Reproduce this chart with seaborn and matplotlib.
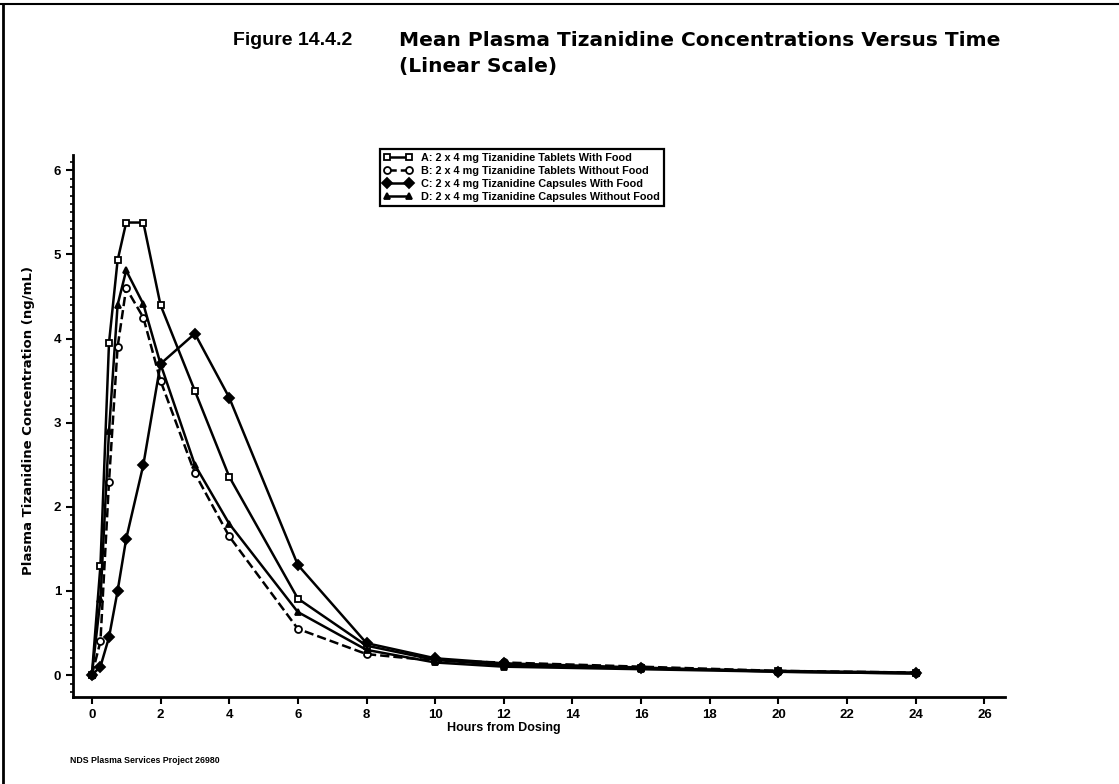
import numpy as np
import pandas as pd
import seaborn as sns
import matplotlib.pyplot as plt
from matplotlib.lines import Line2D
from matplotlib.ticker import MultipleLocator

# Sampling times (hours from dosing)
hours = [0, 0.25, 0.5, 0.75, 1, 1.5, 2, 3, 4, 6, 8, 10, 12, 16, 20, 24]

# Mean plasma tizanidine concentrations (ng/mL)
conc_a = [0, 1.3, 3.95, 4.93, 5.38, 5.38, 4.4, 3.38, 2.36, 0.91, 0.35, 0.18, 0.12, 0.08, 0.05, 0.03]
conc_b = [0, 0.4, 2.3, 3.9, 4.6, 4.25, 3.5, 2.4, 1.65, 0.55, 0.25, 0.17, 0.15, 0.1, 0.05, 0.03]
conc_c = [0, 0.1, 0.45, 1.0, 1.62, 2.5, 3.7, 4.06, 3.3, 1.31, 0.38, 0.2, 0.14, 0.09, 0.04, 0.02]
conc_d = [0, 0.9, 2.9, 4.4, 4.81, 4.41, 3.7, 2.5, 1.8, 0.75, 0.3, 0.15, 0.1, 0.07, 0.04, 0.02]

labels = [
    "A: 2 x 4 mg Tizanidine Tablets With Food",
    "B: 2 x 4 mg Tizanidine Tablets Without Food",
    "C: 2 x 4 mg Tizanidine Capsules With Food",
    "D: 2 x 4 mg Tizanidine Capsules Without Food",
]
x_ticks = list(range(0, 27, 2))
y_ticks = list(range(0, 7))

sns.set_style("ticks")
plt.rcParams['font.family'] = ['Liberation Sans', 'DejaVu Sans']
plt.rcParams['font.weight'] = 'bold'
plt.rcParams['text.color'] = 'black'
plt.rcParams['axes.labelcolor'] = 'black'
plt.rcParams['xtick.color'] = 'black'
plt.rcParams['ytick.color'] = 'black'

fig = plt.figure(figsize=(11.19, 7.84), dpi=100)
ax = fig.add_axes([0.0652, 0.111, 0.833, 0.691])

styles = [
    dict(marker='s', linestyle='-', markerfacecolor='white'),
    dict(marker='o', linestyle='--', markerfacecolor='white'),
    dict(marker='D', linestyle='-', markerfacecolor='black'),
    dict(marker='^', linestyle='-', markerfacecolor='black'),
]
series = [conc_a, conc_b, conc_c, conc_d]

for vals, lab, st in zip(series, labels, styles):
    df = pd.DataFrame({"hours": hours, "conc": vals})
    sns.lineplot(data=df, x="hours", y="conc", ax=ax, color='black',
                 linewidth=1.8, markersize=5, markeredgewidth=1.3,
                 markeredgecolor='black', label=lab, **st)

ax.set_xlim(-0.55, 26.6)
ax.set_ylim(-0.26, 6.18)
ax.set_xticks(x_ticks)
ax.set_yticks(y_ticks)
ax.yaxis.set_minor_locator(MultipleLocator(0.1))
ax.tick_params(axis='both', which='major', direction='out', length=5, width=1.5,
               labelsize=9.5, colors='black')
ax.tick_params(axis='y', which='minor', direction='out', length=2.5, width=1.2)
for lab in ax.get_xticklabels() + ax.get_yticklabels():
    lab.set_fontweight('bold')

for side in ['top', 'right']:
    ax.spines[side].set_visible(False)
for side in ['left', 'bottom']:
    ax.spines[side].set_linewidth(2)
    ax.spines[side].set_color('black')

ax.set_xlabel("Hours from Dosing", fontsize=9, fontweight='bold', color='black')
ax.xaxis.set_label_coords(0.462, -0.047)
ax.set_ylabel("Plasma Tizanidine Concentration (ng/mL)", fontsize=9.5,
              fontweight='bold', family='DejaVu Sans', color='black')
ax.yaxis.set_label_coords(-0.041, 0.511)

leg = ax.legend(loc='upper left', bbox_to_anchor=(0.324, 1.022), fontsize=7.8,
                numpoints=2, handlelength=2.6, frameon=True, fancybox=False,
                borderpad=0.35, labelspacing=0.3, handletextpad=0.8, framealpha=1)
leg.get_frame().set_edgecolor('black')
leg.get_frame().set_linewidth(1.6)
for t in leg.get_texts():
    t.set_color('black')

# titles and footnote
fig.text(0.208, 0.948, "Figure 14.4.2", fontsize=14, fontweight='bold', va='center',
         color='black')
fig.text(0.357, 0.948, "Mean Plasma Tizanidine Concentrations Versus Time",
         fontsize=14.5, fontweight='bold', va='center', family='DejaVu Sans', color='black')
fig.text(0.357, 0.915, "(Linear Scale)", fontsize=14.5, fontweight='bold', va='center',
         family='DejaVu Sans', color='black')
fig.text(0.063, 0.03, "NDS Plasma Services Project 26980", fontsize=6.3, va='center',
         color='black')

# page frame from the scan
fig.add_artist(Line2D([0.003, 0.003], [0.0, 0.995], transform=fig.transFigure,
                      color='black', linewidth=2))
fig.add_artist(Line2D([0.0, 1.0], [0.995, 0.995], transform=fig.transFigure,
                      color='black', linewidth=1.5))

fig.savefig("out.png", dpi=100)
